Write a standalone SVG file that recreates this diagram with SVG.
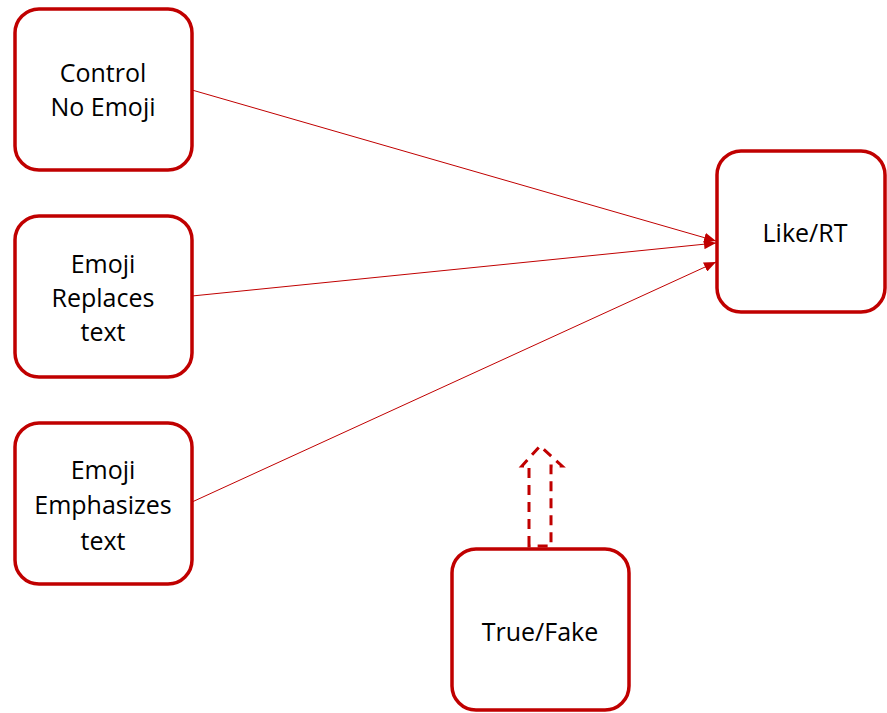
<svg xmlns="http://www.w3.org/2000/svg" width="887" height="713" viewBox="0 0 887 713">
<style>
.box{fill:#fff;stroke:#C00000;stroke-width:3.5}
.t{font-family:"Open Sans","Noto Sans",sans-serif;font-size:25px;fill:#000;text-anchor:middle}
.c{stroke:#C00000;stroke-width:1;fill:none}
</style>
<defs>
<marker id="ah" markerWidth="12" markerHeight="10" refX="12" refY="5" orient="auto" markerUnits="userSpaceOnUse">
<path d="M0,0 L12,5 L0,10 z" fill="#C00000"/>
</marker>
</defs>
<rect width="887" height="713" fill="#fff"/>
<g id="connectors">
<line class="c" x1="192" y1="90" x2="716" y2="241" marker-end="url(#ah)"/>
<line class="c" x1="192" y1="296" x2="716" y2="243" marker-end="url(#ah)"/>
<line class="c" x1="192" y1="502" x2="716" y2="262" marker-end="url(#ah)"/>
<path d="M529,546 L529,466 L522,466 L540,446 L562,466 L551,466 L551,546 Z" fill="none" stroke="#C00000" stroke-width="3" stroke-dasharray="10,7"/>
</g>
<g id="n1"><rect class="box" x="15" y="9" width="177" height="161" rx="24"/>
<text class="t" x="103" y="82">Control</text><text class="t" x="103" y="116">No Emoji</text></g>
<g id="n2"><rect class="box" x="15" y="216" width="177" height="161" rx="24"/>
<text class="t" x="103" y="273">Emoji</text><text class="t" x="103" y="307">Replaces</text><text class="t" x="103" y="341">text</text></g>
<g id="n3"><rect class="box" x="15" y="423" width="177" height="161" rx="24"/>
<text class="t" x="103" y="479">Emoji</text><text class="t" x="103" y="514">Emphasizes</text><text class="t" x="103" y="550">text</text></g>
<g id="n4"><rect class="box" x="717" y="151" width="168" height="161" rx="24"/>
<text class="t" x="805" y="242">Like/RT</text></g>
<g id="n5"><rect class="box" x="452" y="549" width="177" height="161" rx="24"/>
<text class="t" x="540" y="641">True/Fake</text></g>
</svg>
